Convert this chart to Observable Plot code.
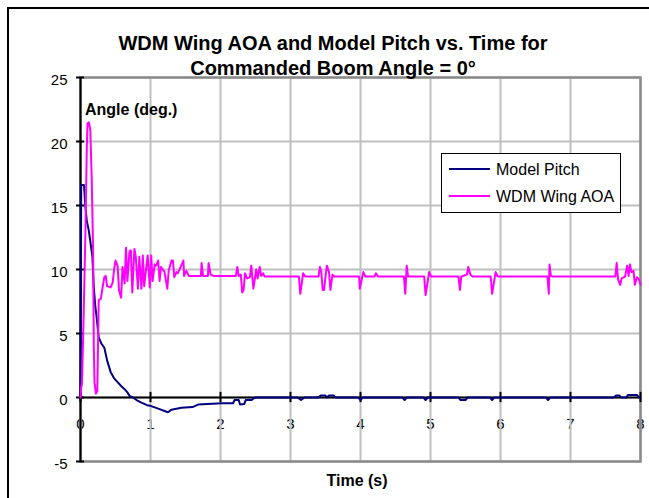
<!DOCTYPE html>
<html><head><meta charset="utf-8">
<script src="https://cdn.jsdelivr.net/npm/d3@7"></script>
<script src="https://cdn.jsdelivr.net/npm/@observablehq/plot@0.6"></script>
<style>
html,body{margin:0;padding:0;background:#fff;overflow:hidden;}
#wrap{position:relative;width:649px;height:498px;font-family:"Liberation Sans",Arial,sans-serif;color:#000;}
#wrap svg{position:absolute;left:0;top:0;}
.t{position:absolute;white-space:nowrap;line-height:1;}
</style></head><body><div id="wrap"></div>
<script>
const titleLines = ["WDM Wing AOA and Model Pitch vs. Time for", "Commanded Boom Angle = 0\u00b0"];
const yLabel = "Angle (deg.)";
const xLabel = "Time (s)";
const seriesNames = ["Model Pitch", "WDM Wing AOA"];
const seriesColors = ["#000080", "#ff00ff"];
const xTicks = [0, 1, 2, 3, 4, 5, 6, 7, 8];
const yTicks = [-5, 0, 5, 10, 15, 20, 25];

const pitchTime = [0, 0.01, 0.05, 0.07, 0.09, 0.12, 0.15, 0.17, 0.19, 0.21, 0.23, 0.26, 0.30, 0.34, 0.38, 0.43, 0.48, 0.53, 0.58, 0.63, 0.67, 0.70, 0.75, 0.80, 0.87, 0.95, 1.0, 1.1, 1.2, 1.25, 1.3, 1.44, 1.6, 1.68, 2.02, 2.18, 2.2, 2.26, 2.28, 2.34, 2.36, 2.44, 2.48, 2.5, 3.1, 3.15, 3.2, 3.4, 3.43, 3.5, 3.52, 3.55, 3.62, 3.64, 3.97, 4.0, 4.03, 4.6, 4.63, 4.66, 4.9, 4.93, 4.96, 5.4, 5.43, 5.5, 5.53, 5.85, 5.88, 5.91, 6.65, 6.68, 6.71, 7.62, 7.65, 7.7, 7.72, 7.8, 7.82, 7.95, 7.98, 8.0];
const pitchAngle = [0, 16.6, 16.6, 14.9, 13.8, 13.0, 11.8, 11.0, 8.6, 7.2, 6.3, 4.7, 4.2, 3.9, 2.9, 2.0, 1.5, 1.2, 0.9, 0.65, 0.4, 0.13, 0, -0.2, -0.4, -0.6, -0.65, -0.85, -1.05, -1.15, -0.95, -0.8, -0.75, -0.55, -0.45, -0.45, -0.2, -0.2, -0.55, -0.5, -0.2, -0.2, -0.05, 0, 0, -0.2, 0, 0, 0.15, 0.15, 0, 0.15, 0.15, 0, 0, -0.2, 0, 0, -0.2, 0, 0, -0.2, 0, 0, -0.2, -0.2, 0, 0, -0.2, 0, 0, -0.2, 0, 0, 0.15, 0.15, 0, 0, 0.2, 0.2, 0, 0];

const aoaTime = [0, 0.01, 0.02, 0.04, 0.07, 0.09, 0.10, 0.12, 0.14, 0.16, 0.18, 0.19, 0.20, 0.22, 0.24, 0.26, 0.29, 0.31, 0.34, 0.36, 0.38, 0.43, 0.46, 0.48, 0.50, 0.53, 0.55, 0.58, 0.60, 0.63, 0.65, 0.67, 0.70, 0.72, 0.74, 0.77, 0.79, 0.82, 0.84, 0.87, 0.89, 0.91, 0.94, 0.96, 0.99, 1.01, 1.03, 1.06, 1.08, 1.11, 1.13, 1.15, 1.2, 1.24, 1.26, 1.3, 1.32, 1.34, 1.37, 1.39, 1.47, 1.48, 1.51, 1.55, 1.72, 1.73, 1.75, 1.82, 1.83, 1.86, 1.9, 2.22, 2.24, 2.26, 2.29, 2.31, 2.33, 2.35, 2.38, 2.42, 2.44, 2.47, 2.51, 2.53, 2.56, 2.58, 2.61, 2.63, 3.12, 3.14, 3.18, 3.21, 3.4, 3.42, 3.44, 3.46, 3.48, 3.50, 3.52, 3.55, 3.57, 3.6, 3.62, 3.98, 3.99, 4.04, 4.07, 4.2, 4.22, 4.25, 4.62, 4.64, 4.66, 4.68, 4.91, 4.93, 4.98, 5.01, 5.40, 5.42, 5.44, 5.52, 5.54, 5.57, 5.6, 5.86, 5.88, 5.93, 5.96, 6.67, 6.69, 6.70, 6.72, 6.74, 7.64, 7.66, 7.68, 7.71, 7.73, 7.78, 7.81, 7.83, 7.85, 7.87, 7.90, 7.92, 7.95, 7.98, 8.0];
const aoaAngle = [0, 0.8, 1.0, 5.2, 12.8, 19.5, 21.4, 21.5, 20.9, 17.2, 11.5, 4.0, 1.2, 0.3, 0.5, 7.6, 7.7, 8.4, 9.4, 9.5, 8.7, 8.6, 9.0, 10.0, 10.7, 10.3, 8.4, 7.8, 10.2, 8.9, 11.7, 9.1, 11.4, 11.5, 8.2, 11.6, 11.0, 8.5, 11.0, 8.5, 11.1, 8.7, 10.2, 11.1, 8.6, 11.1, 9.1, 10.4, 10.3, 10.7, 9.1, 10.2, 9.8, 8.5, 9.9, 10.7, 10.7, 9.4, 9.8, 9.7, 10.7, 9.5, 9.9, 9.5, 9.5, 10.5, 9.5, 9.5, 10.5, 9.6, 9.5, 9.5, 10.2, 9.5, 9.6, 8.2, 8.4, 9.7, 9.3, 9.4, 10.3, 8.5, 10.0, 9.3, 10.2, 9.5, 9.7, 9.45, 9.45, 8.1, 9.7, 9.45, 9.45, 10.2, 9.8, 8.4, 8.4, 9.45, 10.3, 9.8, 8.4, 9.6, 9.45, 9.45, 8.5, 9.8, 9.45, 9.45, 9.7, 9.45, 9.45, 8.1, 10.3, 9.45, 9.45, 8.0, 9.8, 9.45, 9.45, 8.4, 9.45, 9.6, 10.2, 9.6, 9.45, 9.45, 8.1, 9.8, 9.45, 9.45, 8.1, 10.4, 9.5, 9.45, 9.45, 10.5, 9.2, 8.8, 9.3, 9.45, 10.3, 9.5, 10.4, 9.8, 9.9, 8.8, 9.4, 9.2, 8.8];

const pitch = pitchTime.map((t, i) => ({t, v: pitchAngle[i]}));
const aoa = aoaTime.map((t, i) => ({t, v: aoaAngle[i]}));

const chart = Plot.plot({
  width: 649, height: 498,
  marginLeft: 80, marginRight: 9, marginTop: 77, marginBottom: 37,
  x: {domain: [0, 8], axis: null},
  y: {domain: [-5, 25], axis: null},
  style: {fontFamily: "'Liberation Sans', Arial, sans-serif", background: "transparent", color: "black"},
  marks: [
    Plot.text(xTicks, {x: d => d, y: 0, dy: 27, text: d => String(d), fontSize: 15, fill: "black"}),
    Plot.ruleX(xTicks, {stroke: "#c0c0c0", strokeWidth: 2}),
    Plot.ruleY(yTicks, {stroke: "#c0c0c0", strokeWidth: 2}),
    Plot.frame({stroke: "#8a8a8a", strokeWidth: 2.5}),
    Plot.ruleX([0], {stroke: "black", strokeWidth: 2}),
    Plot.ruleY([0], {stroke: "black", strokeWidth: 2}),
    Plot.ruleY(yTicks, {x1: -0.057, x2: 0.057, stroke: "black", strokeWidth: 2}),
    Plot.ruleX(xTicks, {y1: -0.4, y2: 0.4, stroke: "black", strokeWidth: 2}),
    Plot.text(yTicks, {x: 0, y: d => d, dx: -13, dy: 3, textAnchor: "end", text: d => String(d), fontSize: 15, fill: "black"}),
    Plot.line(pitch, {x: "t", y: "v", stroke: seriesColors[0], strokeWidth: 2}),
    Plot.line(aoa, {x: "t", y: "v", stroke: seriesColors[1], strokeWidth: 2})
  ]
});

const wrap = document.getElementById("wrap");
wrap.appendChild(chart);

function addText(txt, style) {
  const d = document.createElement("div");
  d.className = "t";
  d.textContent = txt;
  Object.assign(d.style, style);
  wrap.appendChild(d);
  return d;
}
// outer border
const border = document.createElement("div");
Object.assign(border.style, {position: "absolute", left: "7px", top: "7px", width: "700px", height: "600px", borderLeft: "2px solid black", borderTop: "2px solid black"});
wrap.appendChild(border);

addText(titleLines[0], {left: "333px", top: "33px", fontSize: "20px", fontWeight: "bold", transform: "translateX(-50%)"});
addText(titleLines[1], {left: "333px", top: "58px", fontSize: "20px", fontWeight: "bold", transform: "translateX(-50%)"});
addText(yLabel, {left: "85px", top: "102px", fontSize: "16px", fontWeight: "bold"});
addText(xLabel, {left: "357px", top: "473px", fontSize: "16px", fontWeight: "bold", transform: "translateX(-50%)"});

// legend
const lg = document.createElement("div");
Object.assign(lg.style, {position: "absolute", left: "441px", top: "153px", width: "180px", height: "60px", border: "1px solid black", background: "white", boxSizing: "border-box"});
wrap.appendChild(lg);
const legendY = [169, 196];
seriesNames.forEach((name, i) => {
  const sw = document.createElement("div");
  Object.assign(sw.style, {position: "absolute", left: "449px", top: (legendY[i] - 1) + "px", width: "41px", height: "2px", background: seriesColors[i]});
  wrap.appendChild(sw);
  addText(name, {left: "496px", top: (legendY[i] - 7.5) + "px", fontSize: "16px"});
});
</script>
</body></html>
